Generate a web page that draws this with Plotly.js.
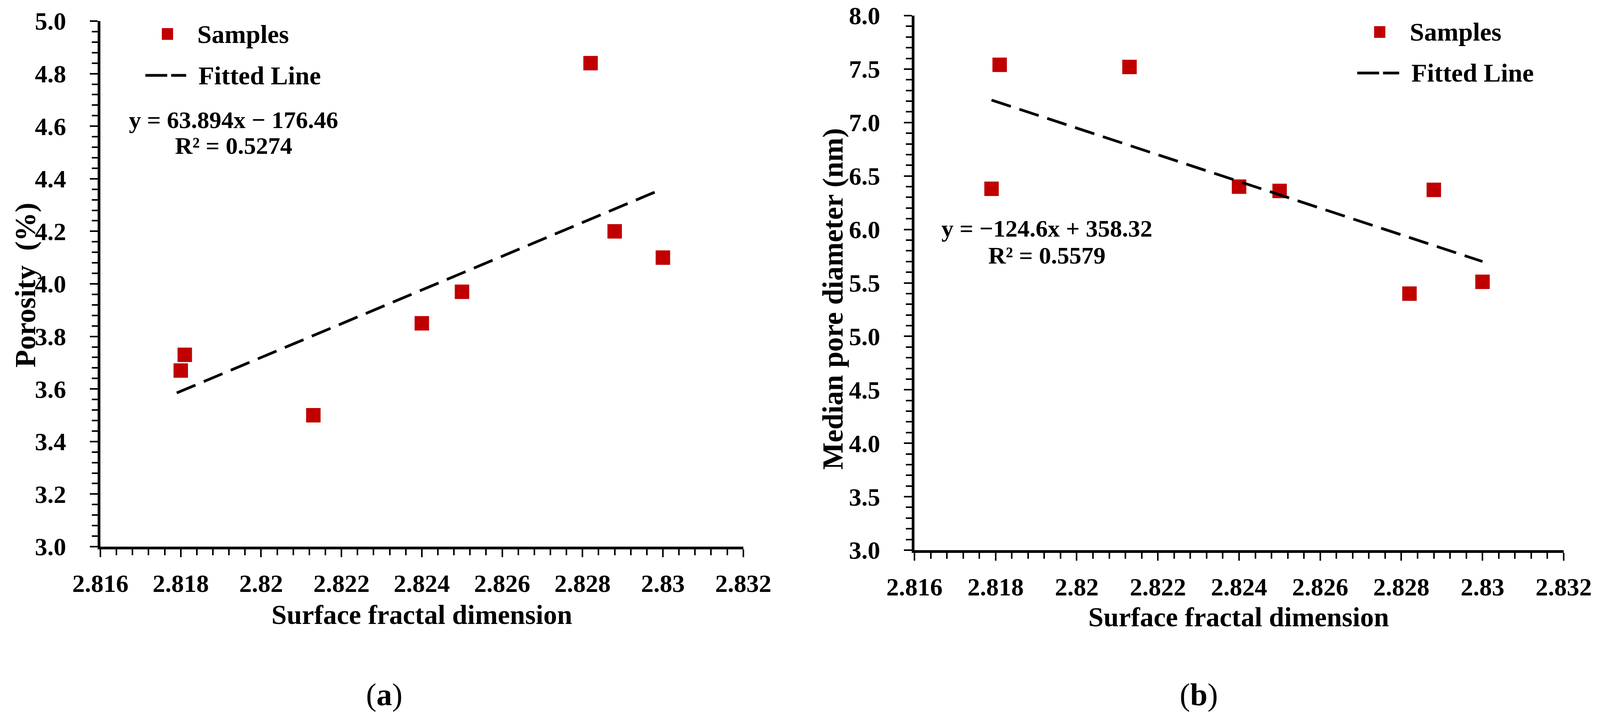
<!DOCTYPE html>
<html>
<head>
<meta charset="utf-8">
<script src="https://cdn.plot.ly/plotly-3.0.1.min.js"></script>
<style>html,body{margin:0;padding:0;background:#fff;overflow:hidden;}#chart{width:100vw;height:100vh;}</style>
</head>
<body>
<div id="chart"></div>
<script>
// ---- data ----
const fractalDim  = [2.8180, 2.8181, 2.8213, 2.8240, 2.8250, 2.8282, 2.8288, 2.8300];
const porosity    = [3.67, 3.73, 3.50, 3.85, 3.97, 4.84, 4.20, 4.10];
const fractalDimB = [2.8179, 2.8181, 2.8213, 2.8240, 2.8250, 2.8282, 2.8288, 2.8300];
const medianPore  = [6.38, 7.54, 7.52, 6.40, 6.36, 5.40, 6.37, 5.51];
const fitX        = [2.8179, 2.8300];
const fitPorosity = [3.585, 4.362];
const fitPore     = [7.21, 5.70];
const eqA = ['y = 63.894x − 176.46', 'R² = 0.5274'];
const eqB = ['y = −124.6x + 358.32', 'R² = 0.5579'];
const legendNames = ['Samples', 'Fitted Line'];
const panelLabels = ['(<b>a</b>)', '(<b>b</b>)'];
const xTitle  = 'Surface fractal dimension';
const yTitleA = 'Porosity  (%)';
const yTitleB = 'Median pore diameter (nm)';

// ---- layout helpers (positions measured in reference pixels, 4271 x 1844) ----
const RW = 4271, RH = 1844;
const W = window.innerWidth || RW, H = window.innerHeight || RH;
const px = v => v / RW;
const py = v => 1 - v / RH;
const FONT = 'Liberation Serif, Times New Roman, serif';
const RED = '#C00000';

const markerStyle = {symbol: 'square', size: 37, color: RED};
const fitStyle = {color: '#000', width: 7, dash: '52px,23px'};

const traces = [
  {x: fractalDim, y: porosity, type: 'scatter', mode: 'markers', marker: markerStyle, xaxis: 'x', yaxis: 'y', name: legendNames[0], showlegend: false},
  {x: fitX, y: fitPorosity, type: 'scatter', mode: 'lines', line: fitStyle, xaxis: 'x', yaxis: 'y', name: legendNames[1], showlegend: false},
  {x: fractalDimB, y: medianPore, type: 'scatter', mode: 'markers', marker: markerStyle, xaxis: 'x2', yaxis: 'y2', name: legendNames[0], showlegend: false},
  {x: fitX, y: fitPore, type: 'scatter', mode: 'lines', line: fitStyle, xaxis: 'x2', yaxis: 'y2', name: legendNames[1], showlegend: false}
];

const tickFont = {family: FONT, size: 64, color: '#000', weight: 'bold'};
function xAxis(domain, anchor) {
  return {
    domain: domain, anchor: anchor, range: [2.816, 2.832], dtick: 0.002, tick0: 2.816,
    showline: true, linecolor: '#000', linewidth: 7, showgrid: false, zeroline: false,
    ticks: 'outside', ticklen: 20, tickwidth: 4, tickcolor: '#000',
    minor: {dtick: 0.0004, ticks: 'outside', ticklen: 15, tickwidth: 4, tickcolor: '#000', showgrid: false},
    tickfont: tickFont, ticklabelstandoff: 12, ticklabeloverflow: 'allow',
    title: {text: ''}
  };
}
function yAxis(domain, anchor, range, dtick, mdtick) {
  return {
    domain: domain, anchor: anchor, range: range, dtick: dtick, tick0: range[0], tickformat: '.1f',
    showline: true, linecolor: '#000', linewidth: 7, showgrid: false, zeroline: false,
    ticks: 'outside', ticklen: 20, tickwidth: 4, tickcolor: '#000',
    minor: {dtick: mdtick, ticks: 'outside', ticklen: 15, tickwidth: 4, tickcolor: '#000', showgrid: false},
    tickfont: tickFont, ticklabelstandoff: 48, ticklabeloverflow: 'allow',
    title: {text: ''}
  };
}

const txt = (x, y, text, size, align, extra) => Object.assign({
  xref: 'paper', yref: 'paper', x: px(x), y: py(y), text: text, showarrow: false,
  xanchor: align, yanchor: 'middle', font: {family: FONT, size: size, color: '#000', weight: 'bold'}
}, extra || {});

const annotations = [
  txt(624, 307, eqA[0], 62, 'center'),
  txt(624, 373, eqA[1], 62, 'center'),
  txt(2794, 585, eqB[0], 62, 'center'),
  txt(2795, 654, eqB[1], 62, 'center'),
  txt(525, 87, legendNames[0], 66, 'left'),
  txt(528, 193, legendNames[1], 66, 'left'),
  txt(3761, 82, legendNames[0], 66, 'left'),
  txt(3765, 187, legendNames[1], 66, 'left'),
  // axis titles
  txt(1126, 1574, xTitle, 70, 'center'),
  txt(3307, 1580, xTitle, 70, 'center'),
  txt(68, 730, yTitleA, 74, 'center', {textangle: -90}),
  txt(2223, 765, yTitleB, 74, 'center', {textangle: -90}),
  // panel labels
  txt(1025, 1779, panelLabels[0], 80, 'center', {font: {family: FONT, size: 80, color: '#000'}}),
  txt(3200, 1779, panelLabels[1], 80, 'center', {font: {family: FONT, size: 80, color: '#000'}})
];

function legendKeys(mx, my, lx0, lx1, ly) {
  return [
    {type: 'rect', xref: 'paper', yref: 'paper', x0: px(mx - 15), x1: px(mx + 15), y0: py(my + 15), y1: py(my - 15),
     fillcolor: RED, line: {width: 0}},
    {type: 'line', xref: 'paper', yref: 'paper', x0: px(lx0), x1: px(lx1), y0: py(ly), y1: py(ly),
     line: {color: '#000', width: 7, dash: '56px,10px'}}
  ];
}
const shapes = [].concat(legendKeys(447, 87, 388, 497, 193), legendKeys(3683, 82, 3623, 3735, 187));

const layout = {
  width: W, height: H, margin: {l: 0, r: 0, t: 0, b: 0},
  paper_bgcolor: '#fff', plot_bgcolor: '#fff', showlegend: false,
  font: {family: FONT, color: '#000'},
  xaxis: xAxis([px(268), px(1984)], 'y'),
  yaxis: yAxis([py(1400), py(54)], 'x', [3, 5], 0.2, 0.04),
  xaxis2: xAxis([px(2441), px(4174)], 'y2'),
  yaxis2: yAxis([py(1409), py(40)], 'x2', [3, 8], 0.5, 0.1),
  annotations: annotations, shapes: shapes
};

Plotly.newPlot('chart', traces, layout, {staticPlot: true, displayModeBar: false});
</script>
</body>
</html>
